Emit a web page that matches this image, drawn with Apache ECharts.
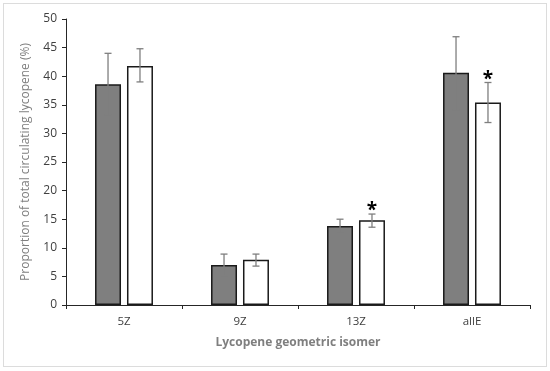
<!DOCTYPE html>
<html><head><meta charset="utf-8">
<script src="https://cdn.jsdelivr.net/npm/echarts@6/dist/echarts.min.js"></script>
<style>html,body{margin:0;padding:0;background:#fff}#c{width:550px;height:371px}
#frame{position:absolute;left:3px;top:3px;width:542px;height:362px;border:1px solid #dcdcdc;pointer-events:none}</style>
</head><body><div id="c"></div><div id="frame"></div>
<script>
const categories = ['5Z', '9Z', '13Z', 'allE'];
const groupA = [38.6, 7.0, 13.8, 40.6];
const groupAErrLow = [33.2, 5.1, 12.6, 34.1];
const groupAErrHigh = [44.0, 8.9, 15.0, 46.9];
const groupB = [41.8, 7.9, 14.8, 35.4];
const groupBErrLow = [39.0, 6.8, 13.6, 31.9];
const groupBErrHigh = [44.8, 8.9, 15.9, 38.9];
const groupBStar = [false, false, true, true];
const yTicks = [0, 5, 10, 15, 20, 25, 30, 35, 40, 45, 50];

const FONT = "'Open Sans', sans-serif";
const BAR_FRAC = 0.224, GAP_FRAC = 0.23;

function errSeries(low, high, idx, stars) {
  return {
    type: 'custom',
    z: 10,
    data: categories.map((c, i) => [i, low[i], high[i], stars ? (stars[i] ? 1 : 0) : 0]),
    renderItem: function (params, api) {
      const band = api.size([1, 0])[0];
      const bw = band * BAR_FRAC;
      const gap = bw * GAP_FRAC;
      const off = (idx === 0 ? -1 : 1) * (bw + gap) / 2;
      const lo = api.coord([api.value(0), api.value(1)]);
      const hi = api.coord([api.value(0), api.value(2)]);
      const x = lo[0] + off;
      const cap = 3.5;
      const st = { stroke: '#7f7f7f', lineWidth: 1.3 };
      const children = [
        { type: 'line', shape: { x1: x, y1: lo[1], x2: x, y2: hi[1] }, style: st },
        { type: 'line', shape: { x1: x - cap, y1: lo[1], x2: x + cap, y2: lo[1] }, style: st },
        { type: 'line', shape: { x1: x - cap, y1: hi[1], x2: x + cap, y2: hi[1] }, style: st }
      ];
      if (api.value(3) === 1) {
        children.push({ type: 'text', style: { text: '*', x: x, y: hi[1] - 3, align: 'center', verticalAlign: 'middle', fontSize: 19, fontWeight: 'bold', fill: '#000', fontFamily: FONT } });
      }
      return { type: 'group', children: children };
    }
  };
}

const chart = echarts.init(document.getElementById('c'));
chart.setOption({
  animation: false,
  grid: { left: 66, right: 20, top: 19, bottom: 66 },
  xAxis: {
    type: 'category', data: categories,
    name: 'Lycopene geometric isomer', nameLocation: 'middle', nameGap: 32,
    nameTextStyle: { color: '#7f7f7f', fontSize: 12, fontWeight: 'bold', fontFamily: FONT },
    axisLine: { lineStyle: { color: '#262626', width: 1 } },
    axisTick: { show: true, length: 4, lineStyle: { color: '#262626' } },
    axisLabel: { color: '#404040', fontSize: 11.5, margin: 11, fontFamily: FONT }
  },
  yAxis: {
    type: 'value', min: 0, max: 50, interval: 5,
    name: 'Proportion of total circulating lycopene (%)', nameLocation: 'middle', nameGap: 34,
    nameTextStyle: { color: '#7f7f7f', fontSize: 12, fontFamily: FONT },
    axisLine: { show: true, lineStyle: { color: '#262626', width: 1 } },
    axisTick: { show: true, length: 4, lineStyle: { color: '#262626' } },
    axisLabel: { color: '#404040', fontSize: 12, margin: 9, fontFamily: FONT, formatter: v => yTicks.includes(v) ? String(v) : '' },
    splitLine: { show: false }
  },
  series: [
    { type: 'bar', data: groupA, barWidth: (BAR_FRAC * 100) + '%', barGap: (GAP_FRAC * 100) + '%',
      itemStyle: { color: '#7f7f7f', borderColor: '#1a1a1a', borderWidth: 1.5 } },
    { type: 'bar', data: groupB, barWidth: (BAR_FRAC * 100) + '%',
      itemStyle: { color: '#ffffff', borderColor: '#1a1a1a', borderWidth: 1.5 } },
    errSeries(groupAErrLow, groupAErrHigh, 0, null),
    errSeries(groupBErrLow, groupBErrHigh, 1, groupBStar)
  ]
});
</script></body></html>
